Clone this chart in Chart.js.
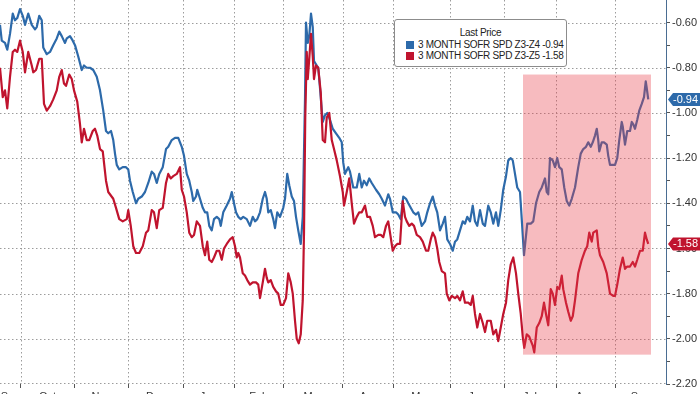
<!DOCTYPE html>
<html>
<head>
<meta charset="utf-8">
<script src="https://cdn.jsdelivr.net/npm/chart.js@4.4.1/dist/chart.umd.min.js"></script>
<style>
    html, body { margin: 0; padding: 0; background: #fff; overflow: hidden; }
    #wrap { position: relative; width: 700px; height: 402px; }
    #legend {
        position: absolute; left: 394px; top: 19px; width: 171px; height: 46px;
        border: 1px solid #8c8c8c; border-radius: 3px; background: #fff;
        font-family: 'Liberation Sans', Arial, sans-serif; font-size: 10px; color: #222;
        letter-spacing: -0.3px; box-sizing: content-box;
    }
    #legend .title { text-align: center; line-height: 12px; margin-top: 7px; }
    #legend .row { line-height: 11px; padding-left: 11px; white-space: nowrap; }
    #legend .sw { display: inline-block; width: 8px; height: 8px; margin-right: 4px; vertical-align: -1px; }
</style>
</head>
<body>
<div id="wrap">
    <canvas id="chart" width="700" height="402"></canvas>
    <div id="legend"></div>
</div>
<script>
// x values are trading days counted from the first point on the chart
const seriesNames = ['3 MONTH SOFR SPD Z3-Z4', '3 MONTH SOFR SPD Z3-Z5'];
const seriesColors = ['#2d6aaa', '#c0142e'];

const z4Days = [0.0, 0.7, 2.0, 2.9, 4.0, 5.1, 6.0, 6.9, 8.0, 9.1, 10.0, 11.3, 12.7, 14.0, 14.7, 15.7, 16.7, 17.3, 18.7, 20.0,
    21.3, 22.7, 23.7, 24.7, 26.0, 26.7, 28.0, 29.1, 30.0, 31.3, 32.7, 33.6, 34.7, 36.0, 37.3, 38.7, 40.0, 41.3, 42.4, 43.3,
    44.4, 45.3, 46.0, 46.7, 47.7, 49.1, 50.4, 51.3, 52.0, 53.1, 54.4, 55.3, 56.7, 58.0, 59.3, 60.7, 61.6, 62.7, 63.7, 65.1,
    66.4, 67.3, 68.7, 70.0, 71.3, 72.7, 73.6, 74.7, 75.7, 76.7, 77.3, 78.4, 78.9, 80.0, 81.1, 82.0, 82.9, 83.7, 84.7, 85.6,
    86.7, 87.7, 88.3, 89.3, 90.7, 92.0, 92.7, 93.6, 94.4, 95.3, 96.3, 97.3, 98.7, 100.0, 101.1, 102.0, 102.9, 104.0, 105.1, 106.0,
    106.7, 107.3, 108.3, 109.3, 110.0, 110.9, 112.0, 113.3, 114.0, 114.9, 115.7, 116.7, 117.6, 118.4, 119.3, 120.3, 121.1, 122.0, 122.4, 123.1,
    123.7, 124.4, 125.1, 125.6, 126.7, 127.3, 128.0, 129.1, 130.0, 130.9, 132.0, 133.1, 134.4, 135.7, 136.7, 137.3, 138.0, 138.4, 139.3, 140.0,
    141.3, 142.7, 143.7, 144.7, 145.6, 146.7, 147.7, 148.7, 150.4, 151.7, 152.7, 154.0, 155.3, 156.0, 157.1, 158.4, 159.3, 160.3, 161.3, 162.4,
    163.3, 164.3, 165.3, 166.4, 167.3, 168.7, 170.0, 170.9, 172.0, 173.1, 174.0, 174.9, 176.0, 177.1, 178.0, 178.9, 180.0, 181.1, 182.0, 182.9,
    184.0, 185.1, 186.0, 186.9, 188.0, 189.1, 190.0, 190.9, 192.0, 193.1, 194.0, 195.3, 196.3, 197.3, 198.4, 199.3, 200.3, 201.3, 202.4, 203.3,
    204.3, 205.1, 206.0, 206.9, 208.0, 208.7, 209.6, 210.9, 212.3, 213.3, 214.4, 215.7, 216.7, 218.0, 218.7, 219.3, 220.0, 221.1, 222.0, 222.9,
    223.7, 224.7, 225.7, 226.7, 227.7, 228.7, 230.0, 231.3, 232.3, 233.3, 234.4, 235.3, 236.3, 237.1, 238.0, 238.7, 239.3, 239.7, 240.7, 241.6,
    242.7, 243.3, 244.0, 245.1, 246.0, 246.9, 247.7, 248.7, 249.1, 250.0, 250.9, 252.0, 252.7, 253.3, 254.0, 254.9, 255.7, 256.7, 257.6, 258.3,
    258.7, 259.3];
const z4Values = [-0.61, -0.68, -0.69, -0.72, -0.65, -0.56, -0.59, -0.58, -0.54, -0.57, -0.61, -0.56, -0.61, -0.63, -0.62, -0.57, -0.59, -0.71, -0.74, -0.73,
    -0.70, -0.67, -0.64, -0.66, -0.69, -0.67, -0.66, -0.68, -0.70, -0.75, -0.81, -0.79, -0.80, -0.80, -0.81, -0.84, -0.90, -0.99, -1.08, -1.09,
    -1.08, -1.12, -1.18, -1.23, -1.25, -1.24, -1.24, -1.25, -1.30, -1.35, -1.40, -1.38, -1.37, -1.35, -1.31, -1.26, -1.27, -1.31, -1.27, -1.24,
    -1.16, -1.15, -1.12, -1.11, -1.11, -1.15, -1.19, -1.27, -1.30, -1.35, -1.39, -1.37, -1.34, -1.38, -1.42, -1.44, -1.44, -1.50, -1.52, -1.47,
    -1.46, -1.47, -1.50, -1.44, -1.41, -1.38, -1.35, -1.40, -1.44, -1.46, -1.47, -1.46, -1.47, -1.50, -1.46, -1.48, -1.47, -1.44, -1.38, -1.35,
    -1.38, -1.44, -1.43, -1.47, -1.51, -1.44, -1.46, -1.42, -1.38, -1.27, -1.32, -1.37, -1.39, -1.46, -1.52, -1.58, -1.46, -0.94, -0.60, -0.69,
    -0.66, -0.56, -0.62, -0.77, -0.79, -0.80, -0.89, -1.04, -1.01, -1.00, -1.03, -1.07, -1.09, -1.11, -1.13, -1.22, -1.27, -1.26, -1.24, -1.26,
    -1.33, -1.33, -1.27, -1.33, -1.30, -1.32, -1.29, -1.31, -1.34, -1.36, -1.38, -1.41, -1.36, -1.38, -1.44, -1.44, -1.45, -1.47, -1.37, -1.38,
    -1.40, -1.42, -1.44, -1.45, -1.44, -1.50, -1.48, -1.44, -1.40, -1.37, -1.41, -1.44, -1.52, -1.49, -1.46, -1.56, -1.58, -1.61, -1.57, -1.56,
    -1.52, -1.48, -1.49, -1.46, -1.48, -1.41, -1.48, -1.50, -1.43, -1.49, -1.50, -1.41, -1.44, -1.49, -1.44, -1.50, -1.43, -1.34, -1.28, -1.21,
    -1.20, -1.21, -1.27, -1.33, -1.35, -1.47, -1.63, -1.49, -1.49, -1.48, -1.40, -1.35, -1.33, -1.29, -1.35, -1.36, -1.20, -1.21, -1.24, -1.20,
    -1.24, -1.25, -1.33, -1.39, -1.41, -1.38, -1.33, -1.24, -1.18, -1.16, -1.15, -1.13, -1.15, -1.13, -1.10, -1.07, -1.12, -1.17, -1.13, -1.13,
    -1.14, -1.19, -1.23, -1.23, -1.23, -1.20, -1.12, -1.04, -1.06, -1.14, -1.08, -1.08, -1.04, -1.05, -1.07, -1.03, -0.99, -0.96, -0.93, -0.86,
    -0.89, -0.94];

const z5Days = [0.0, 1.1, 2.0, 2.9, 4.0, 5.1, 6.0, 6.9, 8.0, 9.1, 10.0, 11.3, 12.7, 13.3, 14.4, 15.7, 16.7, 17.6, 18.7, 20.0,
    21.3, 22.7, 23.7, 24.7, 25.6, 26.4, 27.7, 28.7, 29.6, 30.9, 32.0, 32.7, 33.6, 34.7, 35.7, 37.1, 38.0, 38.9, 40.0, 41.1,
    42.4, 43.3, 45.3, 46.4, 47.7, 49.1, 50.7, 51.3, 52.3, 53.3, 54.4, 55.7, 57.1, 58.4, 59.3, 60.7, 61.6, 62.7, 63.7, 65.1,
    66.4, 67.3, 68.3, 69.3, 70.7, 72.0, 72.7, 73.6, 74.7, 75.7, 76.7, 77.6, 78.7, 80.0, 81.1, 82.0, 82.9, 83.7, 84.7, 85.6,
    86.7, 87.7, 88.7, 89.6, 90.7, 92.0, 93.1, 94.0, 94.7, 95.3, 96.0, 97.1, 98.0, 98.9, 100.0, 101.1, 102.4, 103.3, 104.0, 105.1,
    106.0, 106.7, 107.3, 108.3, 109.3, 110.4, 111.3, 112.3, 113.3, 114.4, 115.3, 116.3, 117.1, 118.0, 118.7, 119.5, 120.3, 121.1, 121.6, 122.1,
    122.7, 123.1, 123.7, 124.4, 125.1, 125.6, 126.4, 127.3, 128.3, 129.1, 130.0, 130.7, 131.7, 132.7, 133.6, 134.7, 136.0, 137.1, 137.6, 138.7,
    139.7, 140.7, 141.6, 142.7, 143.7, 144.7, 146.0, 146.9, 148.0, 149.1, 150.0, 151.3, 152.3, 153.3, 154.4, 155.3, 156.0, 157.1, 158.0, 158.9,
    160.0, 161.1, 162.0, 162.7, 163.7, 164.7, 165.6, 166.7, 168.0, 169.1, 170.4, 171.3, 172.3, 173.1, 174.0, 174.9, 175.7, 176.7, 178.0, 178.7,
    179.7, 180.7, 182.0, 182.9, 184.0, 185.1, 186.0, 187.3, 188.3, 189.1, 190.0, 190.9, 192.0, 193.1, 194.0, 194.9, 196.3, 197.3, 198.4, 199.3,
    200.3, 201.3, 202.4, 203.3, 204.3, 205.3, 206.4, 207.3, 208.3, 209.1, 209.7, 210.7, 211.7, 213.1, 213.7, 214.7, 215.7, 216.7, 217.6, 218.4,
    219.3, 220.3, 221.1, 222.0, 222.9, 223.7, 224.7, 225.3, 226.4, 227.3, 228.3, 229.1, 230.0, 231.3, 232.7, 234.0, 234.9, 235.7, 236.7, 237.3,
    238.7, 239.3, 240.0, 241.3, 242.7, 244.0, 245.3, 246.0, 246.9, 248.0, 249.1, 250.0, 250.9, 252.0, 253.1, 254.0, 254.9, 256.0, 257.1, 258.0,
    258.7, 259.3];
const z5Values = [-0.80, -0.93, -0.90, -0.98, -0.84, -0.73, -0.72, -0.73, -0.68, -0.73, -0.82, -0.73, -0.79, -0.82, -0.81, -0.76, -0.76, -0.96, -0.99, -0.97,
    -0.94, -0.90, -0.84, -0.81, -0.87, -0.88, -0.83, -0.85, -0.90, -0.95, -1.05, -1.13, -1.07, -1.12, -1.12, -1.08, -1.07, -1.10, -1.16, -1.17,
    -1.30, -1.35, -1.38, -1.42, -1.47, -1.48, -1.47, -1.43, -1.50, -1.59, -1.62, -1.62, -1.59, -1.53, -1.52, -1.43, -1.44, -1.51, -1.43, -1.42,
    -1.31, -1.27, -1.29, -1.28, -1.27, -1.24, -1.34, -1.37, -1.44, -1.53, -1.55, -1.54, -1.48, -1.50, -1.59, -1.63, -1.57, -1.65, -1.66, -1.64,
    -1.61, -1.61, -1.65, -1.60, -1.58, -1.56, -1.55, -1.59, -1.64, -1.62, -1.64, -1.71, -1.72, -1.74, -1.76, -1.75, -1.75, -1.76, -1.82, -1.75,
    -1.69, -1.73, -1.75, -1.74, -1.77, -1.79, -1.80, -1.85, -1.85, -1.82, -1.71, -1.75, -1.80, -1.92, -2.00, -2.02, -1.98, -1.83, -1.53, -1.02,
    -0.73, -0.85, -0.76, -0.65, -0.75, -0.85, -0.79, -0.80, -0.91, -1.12, -1.13, -1.02, -1.00, -1.12, -1.16, -1.21, -1.28, -1.35, -1.41, -1.35,
    -1.29, -1.40, -1.49, -1.46, -1.44, -1.44, -1.41, -1.46, -1.46, -1.50, -1.55, -1.54, -1.54, -1.55, -1.50, -1.48, -1.53, -1.61, -1.59, -1.58,
    -1.58, -1.39, -1.46, -1.48, -1.50, -1.49, -1.50, -1.54, -1.55, -1.57, -1.61, -1.61, -1.56, -1.53, -1.55, -1.60, -1.66, -1.70, -1.71, -1.80,
    -1.83, -1.81, -1.82, -1.81, -1.83, -1.79, -1.84, -1.84, -1.85, -1.81, -1.89, -1.95, -1.89, -1.93, -1.97, -1.92, -1.92, -1.98, -1.96, -2.01,
    -1.95, -1.89, -1.84, -1.74, -1.67, -1.64, -1.71, -1.80, -1.89, -1.99, -2.04, -1.98, -1.99, -2.03, -2.06, -1.95, -1.93, -1.90, -1.84, -1.89,
    -1.94, -1.78, -1.80, -1.85, -1.77, -1.78, -1.72, -1.78, -1.84, -1.88, -1.92, -1.90, -1.83, -1.71, -1.65, -1.61, -1.59, -1.53, -1.57, -1.53,
    -1.52, -1.59, -1.63, -1.66, -1.71, -1.80, -1.81, -1.81, -1.76, -1.69, -1.64, -1.69, -1.68, -1.68, -1.66, -1.68, -1.65, -1.61, -1.61, -1.53,
    -1.56, -1.58];

// month boundaries (trading day index) and month labels
const monthStarts = [8.3, 29.6, 51.3, 73.3, 93.6, 113.3, 137.1, 157.3, 180.0, 201.6, 222.4, 246.0];
const monthLabels = ['Sep', 'Oct', 'Nov', 'Dec', 'Jan', 'Feb', 'Mar', 'Apr', 'May', 'Jun', 'Jul', 'Aug', 'Sep'];
const xMin = 0;
const xMax = 266.4;

// right axis: tick marks every 0.1, labels and grid every 0.2
const yTickValues = [-2.2, -2.1, -2.0, -1.9, -1.8, -1.7, -1.6, -1.5, -1.4, -1.3, -1.2, -1.1, -1.0, -0.9, -0.8, -0.7, -0.6];
const yMin = -2.2;
const yMax = -0.5;

// highlighted window
const shadeDays = [209.2, 260.4];
const shadeValues = [-0.83, -2.07];

const FONT = "'Liberation Sans', Arial, sans-serif";
const GRID = '#9c9c9c';

// label positions sit in the middle of each month
const bounds = [xMin, ...monthStarts, xMax];
const monthMids = monthLabels.map((_, i) => Math.round((bounds[i] + bounds[i + 1]) / 2 * 10) / 10);
const xTickValues = [...monthStarts, ...monthMids].sort((a, b) => a - b);

const isBoundary = v => monthStarts.includes(v);
const isMajorY = v => yTickValues.includes(v) && Math.abs(Math.round(v * 10)) % 2 === 0;

const toPoints = (days, vals) => days.map((d, i) => ({ x: d, y: vals[i] }));

// Dotted grid on month boundaries and every 0.2
const gridPlugin = {
    id: 'dottedGrid',
    beforeDatasetsDraw(chart) {
        const { ctx, chartArea: a, scales: { x, y } } = chart;
        ctx.save();
        ctx.strokeStyle = GRID;
        ctx.lineWidth = 1;
        ctx.setLineDash([1.5, 2.5]);
        ctx.beginPath();
        y.ticks.forEach(t => {
            if (!isMajorY(t.value)) return;
            const py = Math.min(Math.round(y.getPixelForValue(t.value)), a.bottom - 1) + 0.5;
            ctx.moveTo(a.left, py);
            ctx.lineTo(a.right, py);
        });
        x.ticks.forEach(t => {
            if (!isBoundary(t.value)) return;
            const px = Math.round(x.getPixelForValue(t.value)) + 0.5;
            ctx.moveTo(px, a.top);
            ctx.lineTo(px, a.bottom);
        });
        ctx.stroke();
        ctx.restore();
    }
};

// Shaded box over the recent window
const shadePlugin = {
    id: 'shade',
    afterDatasetsDraw(chart) {
        const { ctx, scales: { x, y } } = chart;
        const x1 = x.getPixelForValue(shadeDays[0]);
        const x2 = x.getPixelForValue(shadeDays[1]);
        const y1 = y.getPixelForValue(shadeValues[0]);
        const y2 = y.getPixelForValue(shadeValues[1]);
        ctx.save();
        ctx.fillStyle = 'rgba(232, 61, 72, 0.35)';
        ctx.fillRect(x1, y1, x2 - x1, y2 - y1);
        ctx.restore();
    }
};

// Last value tags on the right axis
const lastTagPlugin = {
    id: 'lastTags',
    afterDraw(chart) {
        const { ctx } = chart;
        const yScale = chart.scales.y;
        chart.data.datasets.forEach(ds => {
            const last = ds.data[ds.data.length - 1].y;
            const y = yScale.getPixelForValue(last);
            const x0 = yScale.left + 2;
            const h = 6.5;
            ctx.save();
            ctx.fillStyle = ds.borderColor;
            ctx.beginPath();
            ctx.moveTo(x0, y);
            ctx.lineTo(x0 + 5, y - h);
            ctx.lineTo(chart.width, y - h);
            ctx.lineTo(chart.width, y + h);
            ctx.lineTo(x0 + 5, y + h);
            ctx.closePath();
            ctx.fill();
            ctx.fillStyle = '#fff';
            ctx.font = `11px ${FONT}`;
            ctx.textBaseline = 'middle';
            ctx.fillText(last.toFixed(2), x0 + 5, y + 0.5);
            ctx.restore();
        });
    }
};

function buildLegend(datasets) {
    const el = document.getElementById('legend');
    let html = '<div class="title">Last Price</div>';
    datasets.forEach(ds => {
        const last = ds.data[ds.data.length - 1].y;
        html += `<div class="row"><span class="sw" style="background:${ds.borderColor}"></span>${ds.label} ${last.toFixed(2)}</div>`;
    });
    el.innerHTML = html;
}

const datasets = [
    { label: seriesNames[0], data: toPoints(z4Days, z4Values), borderColor: seriesColors[0], order: 2 },
    { label: seriesNames[1], data: toPoints(z5Days, z5Values), borderColor: seriesColors[1], order: 1 }
].map(ds => Object.assign(ds, { borderWidth: 2.2, pointRadius: 0, pointHoverRadius: 0, tension: 0, fill: false, borderJoinStyle: 'round' }));

new Chart(document.getElementById('chart'), {
    type: 'line',
    data: { datasets },
    options: {
        responsive: false,
        animation: false,
        devicePixelRatio: 1,
        layout: { padding: 0, autoPadding: false },
        plugins: { legend: { display: false }, tooltip: { enabled: false } },
        scales: {
            x: {
                type: 'linear',
                min: xMin,
                max: xMax,
                afterBuildTicks: s => { s.ticks = xTickValues.map(v => ({ value: v })); },
                // no label overhang padding, plot starts at the left edge
                afterFit: s => { s.height = 18; s.paddingLeft = 0; s.paddingRight = 0; },
                ticks: {
                    autoSkip: false,
                    maxRotation: 0,
                    padding: 2,
                    color: '#333',
                    font: { family: FONT, size: 11 },
                    callback: v => {
                        const i = monthMids.indexOf(v);
                        return i >= 0 ? monthLabels[i] : '';
                    }
                },
                grid: {
                    drawOnChartArea: false,
                    tickColor: c => (c.tick && isBoundary(c.tick.value)) ? '#555' : 'rgba(0,0,0,0)',
                    tickLength: 4
                },
                border: { display: false }
            },
            y: {
                position: 'right',
                min: yMin,
                max: yMax,
                afterBuildTicks: s => { s.ticks = yTickValues.map(v => ({ value: v })); },
                // plot runs flush to the top edge
                afterFit: s => { s.width = 34; s.paddingTop = 0; s.paddingBottom = 0; },
                ticks: {
                    autoSkip: false,
                    padding: 2,
                    color: '#333',
                    font: { family: FONT, size: 11 },
                    callback: v => isMajorY(v) ? v.toFixed(2) : ''
                },
                grid: {
                    drawOnChartArea: false,
                    tickColor: '#555',
                    tickLength: 4
                },
                border: { display: true, color: '#4a6d92', width: 1 }
            }
        }
    },
    plugins: [gridPlugin, shadePlugin, lastTagPlugin]
});

buildLegend(datasets);
</script>
</body>
</html>
